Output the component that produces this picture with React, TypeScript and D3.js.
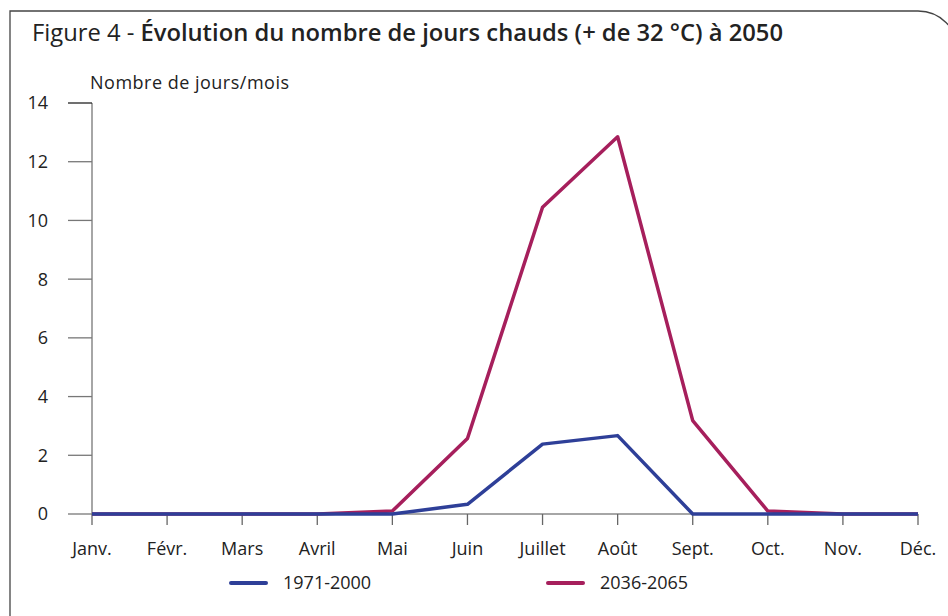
import React from "react";
import * as d3 from "d3";

const months = ["Janv.", "Févr.", "Mars", "Avril", "Mai", "Juin", "Juillet", "Août", "Sept.", "Oct.", "Nov.", "Déc."];
const yTicks = [0, 2, 4, 6, 8, 10, 12, 14];
const series1971 = [0, 0, 0, 0, 0, 0.33, 2.38, 2.67, 0, 0, 0, 0];
const series2036 = [0, 0, 0, 0, 0.1, 2.57, 10.45, 12.85, 3.18, 0.1, 0, 0];
const seriesNames = ["1971-2000", "2036-2065"];
const colors = ["#2e3f98", "#a61f5c"];

const W = 948;
const H = 616;
const font = "'Open Sans', Roboto, sans-serif";

export default function App() {
  const x = d3.scalePoint<string>().domain(months).range([92, 918]);
  const y = d3.scaleLinear().domain([0, 14]).range([514, 103]);

  const line = d3
    .line<number>()
    .x((d, i) => x(months[i]) as number)
    .y((d) => y(d));

  const data = [series1971, series2036];

  return (
    <svg
      width={W}
      height={H}
      style={{ position: "absolute", left: 0, top: 0, background: "#fff" }}
      fontFamily={font}
    >
      {/* cadre */}
      <path d="M10,616 V11 H918 A40,40 0 0 1 958,51 V616" fill="none" stroke="#444" strokeWidth={1.3} />

      {/* titre */}
      <text x={32} y={41} fontSize={23.5} fill="#222" textLength={751} lengthAdjust="spacingAndGlyphs">
        Figure 4 - <tspan fontWeight={600}>Évolution du nombre de jours chauds (+ de 32 °C) à 2050</tspan>
      </text>
      <text x={90} y={89} fontSize={18} fill="#222" textLength={199} lengthAdjust="spacing">
        Nombre de jours/mois
      </text>

      {/* axe y */}
      <line x1={x(months[0])} x2={x(months[0])} y1={y(14)} y2={y(0)} stroke="#888" strokeWidth={1.5} />
      {yTicks.map((t) => (
        <g key={t}>
          <line x1={68} x2={x(months[0])} y1={y(t)} y2={y(t)} stroke={t === 14 ? "#222" : "#777"} strokeWidth={1.3} />
          <text x={48} y={y(t)} dy="0.36em" textAnchor="end" fontSize={18} fill="#222">
            {t}
          </text>
        </g>
      ))}

      {/* axe x */}
      <line x1={x(months[0])} x2={x(months[11])} y1={y(0)} y2={y(0)} stroke="#888" strokeWidth={1.5} />
      {months.map((m) => (
        <g key={m}>
          <line x1={x(m)} x2={x(m)} y1={y(0)} y2={y(0) + 11} stroke="#666" strokeWidth={1.3} />
          <text x={x(m)} y={555} textAnchor="middle" fontSize={18} fill="#222">
            {m}
          </text>
        </g>
      ))}

      {/* courbes */}
      {[1, 0].map((k) => (
        <path key={k} d={line(data[k]) ?? ""} fill="none" stroke={colors[k]} strokeWidth={3.5} strokeLinejoin="round" />
      ))}

      {/* légende */}
      {seriesNames.map((n, k) => {
        const lx = k === 0 ? 231 : 548;
        return (
          <g key={n}>
            <line x1={lx} x2={lx + 35} y1={583} y2={583} stroke={colors[k]} strokeWidth={4} strokeLinecap="round" />
            <text x={lx + 52} y={583} dy="0.36em" fontSize={18} fill="#222">
              {n}
            </text>
          </g>
        );
      })}
    </svg>
  );
}
